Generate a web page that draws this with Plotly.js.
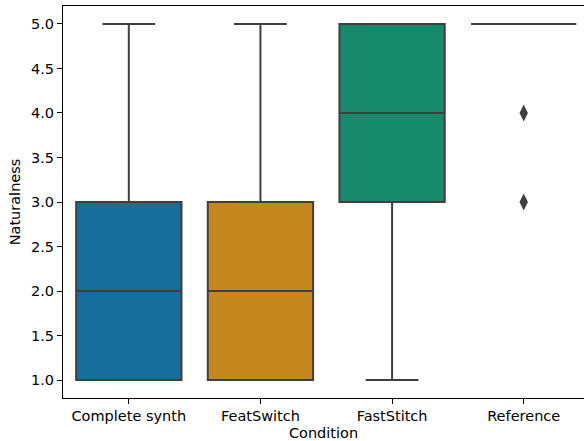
<!DOCTYPE html>
<html>
<head>
<meta charset="utf-8">
<script src="https://cdn.plot.ly/plotly-3.0.1.min.js"></script>
<style>html,body{margin:0;padding:0;background:#fff;}#chart{width:584px;height:441px;}</style>
</head>
<body>
<div id="chart"></div>
<script>
const categories = ["Complete synth", "FeatSwitch", "FastStitch", "Reference"];
const lowerWhisker = [1, 1, 1, 5];
const q1Values = [1, 1, 3, 5];
const medianValues = [2, 2, 4, 5];
const q3Values = [3, 3, 5, 5];
const upperWhisker = [5, 5, 5, 5];
const outlierCategories = ["Reference", "Reference"];
const outlierValues = [4, 3];
const boxColors = ["#176d9c", "#c4881f", "#168a6a", "#b85a1f"];
const yTicks = [1.0, 1.5, 2.0, 2.5, 3.0, 3.5, 4.0, 4.5, 5.0];

const lineCol = "#3f3f3f";
const font = {family: "DejaVu Sans", size: 14.5, color: "#000"};

const traces = categories.map((c, i) => ({
  type: "box",
  x: [c],
  q1: [q1Values[i]],
  median: [medianValues[i]],
  q3: [q3Values[i]],
  lowerfence: [lowerWhisker[i]],
  upperfence: [upperWhisker[i]],
  width: 0.8,
  whiskerwidth: 0.5,
  fillcolor: boxColors[i],
  line: {color: lineCol, width: 2},
  boxpoints: false,
  hoverinfo: "skip",
  showlegend: false
}));

traces.push({
  type: "scatter",
  mode: "markers",
  x: outlierCategories,
  y: outlierValues,
  marker: {symbol: "diamond-tall", size: 12, color: lineCol},
  hoverinfo: "skip",
  showlegend: false
});

Plotly.newPlot("chart", traces, {
  width: 584,
  height: 441,
  margin: {l: 63, r: 0, t: 6, b: 43},
  paper_bgcolor: "#fff",
  plot_bgcolor: "#fff",
  boxmode: "overlay",
  font: font,
  xaxis: {
    type: "category",
    categoryarray: categories,
    categoryorder: "array",
    range: [-0.5, 3.458],
    showgrid: false,
    zeroline: false,
    showline: true,
    mirror: true,
    linecolor: "#000",
    linewidth: 1,
    ticks: "outside",
    ticklen: 5,
    tickcolor: "#000",
    tickfont: font,
    title: {text: "Condition", font: font, standoff: 5}
  },
  yaxis: {
    range: [0.798, 5.202],
    tickvals: yTicks,
    ticktext: yTicks.map(v => v.toFixed(1)),
    showgrid: false,
    zeroline: false,
    showline: true,
    mirror: false,
    linecolor: "#000",
    linewidth: 1,
    ticks: "outside",
    ticklen: 5,
    tickcolor: "#000",
    tickfont: font,
    title: {text: "Naturalness", font: font, standoff: 6}
  }
}, {displayModeBar: false, staticPlot: true});
</script>
</body>
</html>
